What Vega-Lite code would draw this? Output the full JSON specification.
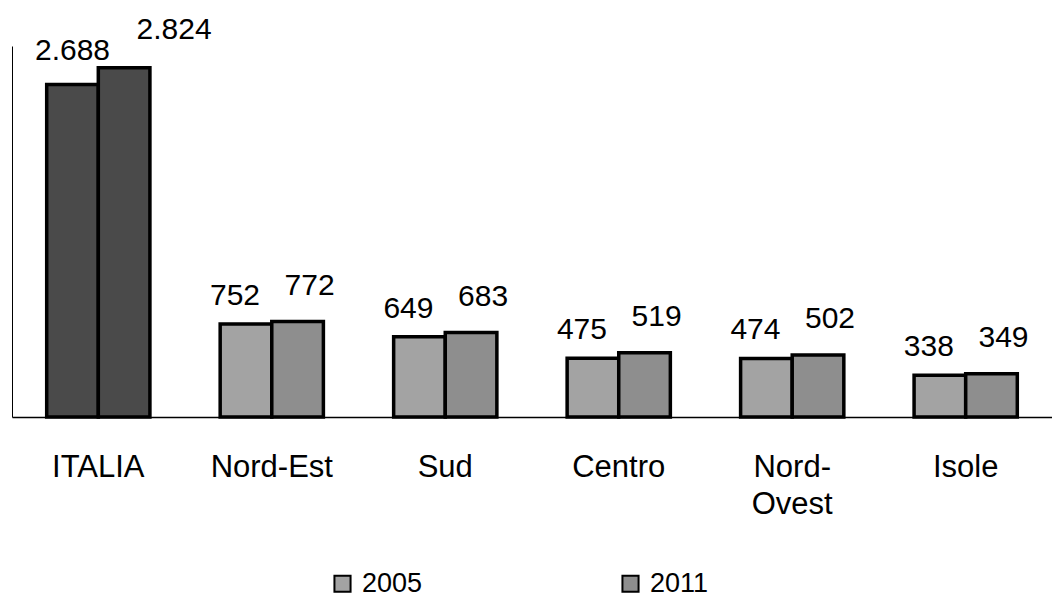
{
  "$schema": "https://vega.github.io/schema/vega-lite/v6.json",
  "width": 1040,
  "height": 371,
  "autosize": "none",
  "padding": {"left": 12, "top": 46, "right": 0, "bottom": 186},
  "background": "white",
  "config": {
    "view": {"stroke": null},
    "font": "Liberation Sans",
    "locale": {"number": {"decimal": ",", "thousands": ".", "grouping": [3], "currency": ["€", ""]}}
  },
  "data": {
    "values": [
      {"regione": "ITALIA", "anno": "2005", "valore": 2688},
      {"regione": "ITALIA", "anno": "2011", "valore": 2824},
      {"regione": "Nord-Est", "anno": "2005", "valore": 752},
      {"regione": "Nord-Est", "anno": "2011", "valore": 772},
      {"regione": "Sud", "anno": "2005", "valore": 649},
      {"regione": "Sud", "anno": "2011", "valore": 683},
      {"regione": "Centro", "anno": "2005", "valore": 475},
      {"regione": "Centro", "anno": "2011", "valore": 519},
      {"regione": "Nord-Ovest", "anno": "2005", "valore": 474},
      {"regione": "Nord-Ovest", "anno": "2011", "valore": 502},
      {"regione": "Isole", "anno": "2005", "valore": 338},
      {"regione": "Isole", "anno": "2011", "valore": 349}
    ]
  },
  "encoding": {
    "x": {
      "field": "regione", "type": "nominal", "sort": null,
      "scale": {"paddingInner": 0.405, "paddingOuter": 0.2},
      "axis": {
        "title": null, "labelAngle": 0, "ticks": false,
        "domainColor": "#000", "domainWidth": 1.5,
        "labelFont": "Liberation Sans", "labelFontSize": 31, "labelColor": "#000",
        "labelPadding": 35, "labelBaseline": "top", "labelLineHeight": 37,
        "labelExpr": "datum.value == 'Nord-Ovest' ? ['Nord-', 'Ovest'] : datum.value"
      }
    },
    "xOffset": {"field": "anno", "type": "nominal"},
    "y": {
      "field": "valore", "type": "quantitative",
      "scale": {"domain": [0, 3000], "nice": false},
      "axis": {"title": null, "labels": false, "ticks": false, "grid": false, "domainColor": "#000", "domainWidth": 1}
    }
  },
  "layer": [
    {
      "mark": {"type": "bar", "stroke": "#000", "strokeWidth": 3.5},
      "encoding": {
        "color": {
          "field": "anno", "type": "nominal",
          "scale": {"domain": ["2005", "2011"], "range": ["#a3a3a3", "#8e8e8e"]},
          "condition": {"test": "datum.regione === 'ITALIA'", "value": "#4a4a4a"},
          "legend": {
            "title": null, "orient": "none", "legendX": 317, "legendY": 524,
            "direction": "horizontal", "symbolType": "square", "symbolSize": 260,
            "symbolStrokeColor": "#000", "symbolStrokeWidth": 2, "symbolFillColor": "#888",
            "labelFontSize": 27, "labelFont": "Liberation Sans", "labelColor": "#000",
            "columnPadding": 194, "labelOffset": 6
          }
        }
      }
    },
    {
      "transform": [{"filter": "datum.anno === '2005' && datum.regione !== 'ITALIA'"}],
      "mark": {"type": "text", "fontSize": 30, "font": "Liberation Sans", "color": "#000", "baseline": "middle", "dy": -28, "dx": -11},
      "encoding": {"text": {"field": "valore", "type": "quantitative", "format": ",d"}}
    },
    {
      "transform": [{"filter": "datum.anno === '2011' && datum.regione !== 'ITALIA'"}],
      "mark": {"type": "text", "fontSize": 30, "font": "Liberation Sans", "color": "#000", "baseline": "middle", "dy": -36, "dx": 12},
      "encoding": {"text": {"field": "valore", "type": "quantitative", "format": ",d"}}
    },
    {
      "transform": [{"filter": "datum.anno === '2005' && datum.regione === 'ITALIA'"}],
      "mark": {"type": "text", "fontSize": 30, "font": "Liberation Sans", "color": "#000", "baseline": "middle", "dy": -34, "dx": 0},
      "encoding": {"text": {"field": "valore", "type": "quantitative", "format": ",d"}}
    },
    {
      "transform": [{"filter": "datum.anno === '2011' && datum.regione === 'ITALIA'"}],
      "mark": {"type": "text", "fontSize": 30, "font": "Liberation Sans", "color": "#000", "baseline": "middle", "dy": -38, "dx": 50},
      "encoding": {"text": {"field": "valore", "type": "quantitative", "format": ",d"}}
    }
  ]
}
